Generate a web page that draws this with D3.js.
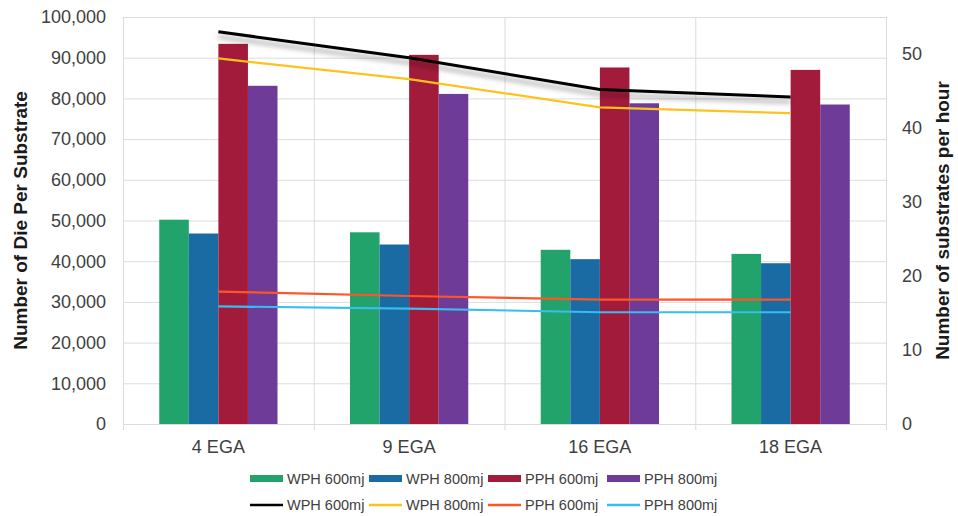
<!DOCTYPE html>
<html>
<head>
<meta charset="utf-8">
<script src="https://cdn.jsdelivr.net/npm/d3@7"></script>
<style>
  html, body { margin: 0; padding: 0; background: #fff; }
  svg { display: block; font-family: "Liberation Sans", Arial, sans-serif; }
</style>
</head>
<body>
<svg id="chart" width="958" height="516"></svg>
<script>
// ---- Data ----
const categories = ["4 EGA", "9 EGA", "16 EGA", "18 EGA"];
const barSeries = ["WPH 600mj", "WPH 800mj", "PPH 600mj", "PPH 800mj"];
const barValues = [
  [50200, 47100, 42800, 41800],   // WPH 600mj (die per substrate)
  [46800, 44100, 40500, 39500],   // WPH 800mj
  [93400, 90700, 87600, 87000],   // PPH 600mj
  [83100, 81100, 78800, 78500]    // PPH 800mj
];
const lineSeries = ["WPH 600mj", "WPH 800mj", "PPH 600mj", "PPH 800mj"];
const lineValues = [
  [53.0, 49.5, 45.2, 44.2],  // WPH 600mj (substrates per hour)
  [49.4, 46.6, 42.8, 42.0],  // WPH 800mj
  [17.9, 17.3, 16.8, 16.8],  // PPH 600mj
  [15.9, 15.6, 15.1, 15.1]   // PPH 800mj
];
const leftTicks = [0, 10000, 20000, 30000, 40000, 50000, 60000, 70000, 80000, 90000, 100000];
const rightTicks = [0, 10, 20, 30, 40, 50];

const barColors = ["#22a36c", "#1a6aa3", "#a31b3b", "#6e3b99"];
const lineColors = ["#000000", "#ffc21a", "#ff5526", "#35bff0"];

// ---- Layout ----
const svg = d3.select("#chart");
const L = 123, R = 886, T = 17, B = 424;

const x0 = d3.scaleBand().domain(categories).range([L, R]).paddingInner(0).paddingOuter(0);
const x1 = d3.scaleBand().domain(barSeries).range([x0.bandwidth() * 0.19, x0.bandwidth() * 0.81]).padding(0);
const yL = d3.scaleLinear().domain([0, 100000]).range([B, T]);
const yR = d3.scaleLinear().domain([0, 55]).range([B, T]);

const defs = svg.append("defs");
const f = defs.append("filter").attr("id", "shadow").attr("x", "-10%").attr("y", "-50%").attr("width", "120%").attr("height", "300%");
f.append("feDropShadow").attr("dx", 0).attr("dy", 5).attr("stdDeviation", 2.5).attr("flood-color", "#000").attr("flood-opacity", 0.35);

// Grid: horizontal
svg.append("g").selectAll("line").data(leftTicks).join("line")
  .attr("x1", L).attr("x2", R)
  .attr("y1", d => yL(d) + 0.5).attr("y2", d => yL(d) + 0.5)
  .attr("stroke", "#dcdcdc").attr("stroke-width", 1);

// Grid: vertical at category boundaries
const bounds = categories.map(c => x0(c)).concat([R]);
svg.append("g").selectAll("line").data(bounds).join("line")
  .attr("x1", d => d + 0.5).attr("x2", d => d + 0.5)
  .attr("y1", T).attr("y2", B + 6)
  .attr("stroke", "#dcdcdc").attr("stroke-width", 1);

// Bars
const gBars = svg.append("g");
barSeries.forEach((s, si) => {
  gBars.append("g").selectAll("rect").data(categories).join("rect")
    .attr("x", c => x0(c) + x1(s))
    .attr("width", x1.bandwidth())
    .attr("y", (c, ci) => yL(barValues[si][ci]))
    .attr("height", (c, ci) => B - yL(barValues[si][ci]))
    .attr("fill", barColors[si]);
});

// Lines
const line = d3.line().x((d, i) => x0(categories[i]) + x0.bandwidth() / 2).y(d => yR(d));
lineSeries.forEach((s, si) => {
  svg.append("path").datum(lineValues[si])
    .attr("d", line)
    .attr("fill", "none")
    .attr("stroke", lineColors[si])
    .attr("stroke-width", si === 0 ? 3 : 2.2)
    .attr("filter", si === 0 ? "url(#shadow)" : null);
});

// Left axis labels
svg.append("g").selectAll("text").data(leftTicks).join("text")
  .attr("x", 106).attr("y", d => yL(d)).attr("dy", "0.35em")
  .attr("text-anchor", "end").attr("font-size", 18).attr("fill", "#404040")
  .text(d => d3.format(",")(d));

// Right axis labels
svg.append("g").selectAll("text").data(rightTicks).join("text")
  .attr("x", 902).attr("y", d => yR(d)).attr("dy", "0.35em")
  .attr("text-anchor", "start").attr("font-size", 18).attr("fill", "#404040")
  .text(d => d);

// X axis labels
svg.append("g").selectAll("text").data(categories).join("text")
  .attr("x", c => x0(c) + x0.bandwidth() / 2).attr("y", 447).attr("dy", "0.35em")
  .attr("text-anchor", "middle").attr("font-size", 18).attr("fill", "#404040")
  .text(c => c);

// Axis titles
svg.append("text").attr("transform", `translate(27,${(T + B) / 2}) rotate(-90)`)
  .attr("text-anchor", "middle").attr("font-size", 19).attr("font-weight", "bold").attr("fill", "#1a1a1a")
  .text("Number of Die Per Substrate");
svg.append("text").attr("transform", `translate(949,${(T + B) / 2}) rotate(-90)`)
  .attr("text-anchor", "middle").attr("font-size", 19).attr("font-weight", "bold").attr("fill", "#1a1a1a")
  .text("Number of substrates per hour");

// Legend
const legX = [250, 369, 488, 607];
const leg1 = svg.append("g");
barSeries.forEach((s, i) => {
  leg1.append("rect").attr("x", legX[i]).attr("y", 475).attr("width", 33).attr("height", 7).attr("fill", barColors[i]);
  leg1.append("text").attr("x", legX[i] + 37).attr("y", 479).attr("dy", "0.35em")
    .attr("font-size", 14.5).attr("fill", "#404040").text(s);
});
const leg2 = svg.append("g");
lineSeries.forEach((s, i) => {
  leg2.append("line").attr("x1", legX[i]).attr("x2", legX[i] + 33).attr("y1", 505).attr("y2", 505)
    .attr("stroke", lineColors[i]).attr("stroke-width", 2.5);
  leg2.append("text").attr("x", legX[i] + 37).attr("y", 505).attr("dy", "0.35em")
    .attr("font-size", 14.5).attr("fill", "#404040").text(s);
});
</script>
</body>
</html>
